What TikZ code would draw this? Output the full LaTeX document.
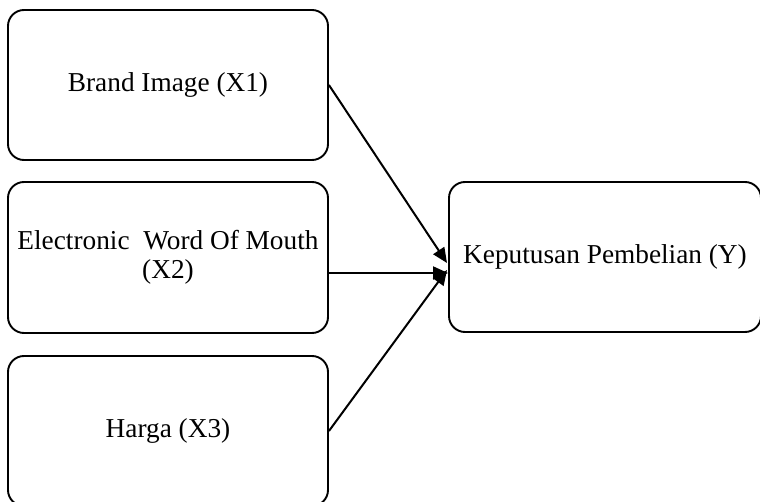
\documentclass[tikz,border=0pt]{standalone}
\usepackage{fontspec}
\setmainfont{Liberation Serif}
\usetikzlibrary{arrows.meta}
\tikzstyle{var}=[draw=black, line width=1.9pt, rounded corners=16pt, minimum width=320pt, minimum height=150pt, align=center, inner sep=0pt, font=\fontsize{27.3}{29}\selectfont]
\tikzstyle{link}=[line width=2pt, -{Triangle[length=15pt, width=13pt]}]

\begin{document}
\begin{tikzpicture}[x=1pt, y=-1pt]
				\useasboundingbox (0,0) rectangle (760,502);

				% Independent variables
				\node[var] (x1) at (168, 85) {Brand Image (X1)};
				\node[var, minimum height=151pt] (x2) at (168, 257.5) {Electronic\ \ Word Of Mouth\\(X2)};
				\node[var] (x3) at (168, 431) {Harga (X3)};

				% Dependent variable
				\node[var, minimum width=312pt] (y) at (605, 257) {Keputusan Pembelian (Y)};

				\coordinate (t1) at (447, 263);
				\coordinate (t2) at (448, 273);
				\coordinate (t3) at (447, 270);

				\draw[link] (x1.east) -- (t1);
				\draw[link] (x2.east |- t2) -- (t2);
				\draw[link] (x3.east) -- (t3);
			\end{tikzpicture}
\end{document}
